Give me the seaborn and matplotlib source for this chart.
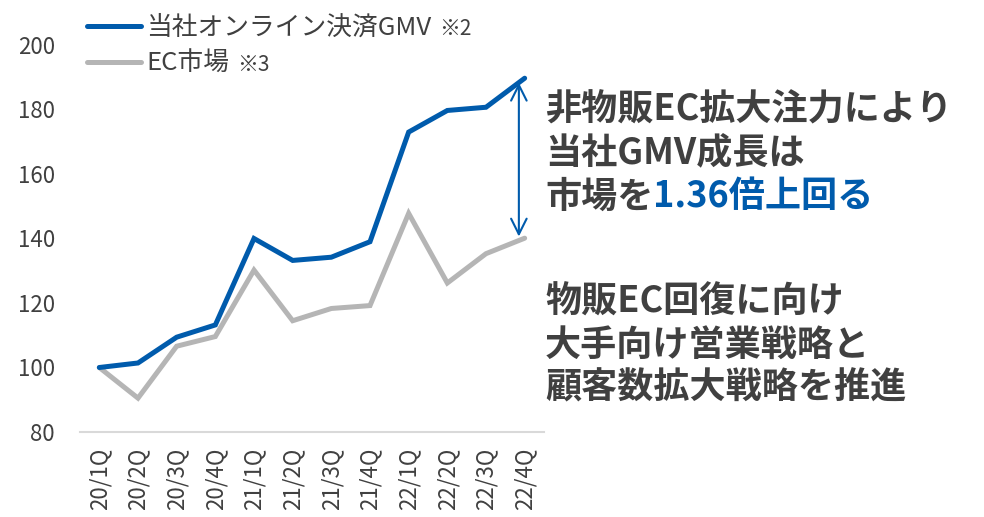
import matplotlib
matplotlib.use("Agg")
import matplotlib.pyplot as plt
import seaborn as sns
import pandas as pd

quarters = ["20/1Q", "20/2Q", "20/3Q", "20/4Q", "21/1Q", "21/2Q",
            "21/3Q", "21/4Q", "22/1Q", "22/2Q", "22/3Q", "22/4Q"]
gmv = [100, 101.4, 109.4, 113.2, 140, 133.2, 134.2, 139, 173, 179.7, 180.7, 189.7]
ec_market = [100, 90.5, 106.6, 109.6, 130.2, 114.5, 118.3, 119.2, 147.8, 126.2, 135.3, 140.1]
series_names = ["当社オンライン決済GMV", "EC市場"]
series_notes = ["※2", "※3"]

BLUE = "#005BAC"
GRAY = "#B5B5B5"
TEXT = "#404040"

sns.set_theme(style="white")
plt.rcParams["font.family"] = ["Noto Sans CJK JP", "DejaVu Sans"]

df = pd.DataFrame({
    "quarter": quarters * 2,
    "value": gmv + ec_market,
    "series": [series_names[0]] * len(quarters) + [series_names[1]] * len(quarters),
})

fig = plt.figure(figsize=(9.84, 5.17), dpi=100)
ax = fig.add_axes([80 / 984, 85 / 517, 464 / 984, 387 / 517])

sns.lineplot(data=df, x="quarter", y="value", hue="series",
             palette={series_names[0]: BLUE, series_names[1]: GRAY},
             hue_order=[series_names[1], series_names[0]],
             linewidth=3.6, ax=ax, legend=False, sort=False)
for ln in ax.lines:
    ln.set_solid_capstyle("round")
    ln.set_solid_joinstyle("miter")

ax.set_xlim(-0.5, len(quarters) - 0.5)
ax.set_ylim(80, 200)
ax.set_yticks(range(80, 201, 20))
ax.set_xlabel("")
ax.set_ylabel("")
ax.tick_params(axis="both", length=0, colors=TEXT, labelsize=16)
ax.tick_params(axis="y", pad=18)
ax.tick_params(axis="x", pad=11, rotation=90)
for s in ["top", "right", "left"]:
    ax.spines[s].set_visible(False)
ax.spines["bottom"].set_color("#D9D9D9")
ax.spines["bottom"].set_linewidth(1.5)
ax.grid(False)

# double arrow showing the gap at 22/4Q
ax.annotate("", xy=(10.85, 188.3), xytext=(10.85, 140.6),
            arrowprops=dict(arrowstyle="<->", color=BLUE, lw=1.5,
                            mutation_scale=28, shrinkA=0, shrinkB=0))

# legend
handles = [plt.Line2D([], [], color=BLUE, lw=3.6, solid_capstyle="round"),
           plt.Line2D([], [], color=GRAY, lw=3.6, solid_capstyle="round")]
leg = fig.legend(handles, series_names, loc="upper left",
                 bbox_to_anchor=(87 / 984, 1 - 15 / 517), frameon=False,
                 fontsize=18.5, handlelength=2.1, handletextpad=0.2,
                 labelspacing=0.4, borderpad=0, borderaxespad=0)
for t in leg.get_texts():
    t.set_color(TEXT)

fig.canvas.draw()
r = fig.canvas.get_renderer()
W, H = fig.bbox.width, fig.bbox.height
for t, note in zip(leg.get_texts(), series_notes):
    bb = t.get_window_extent(r)
    fig.text((bb.x1 + 8) / W, (bb.y1 - 3) / H, note, fontsize=15,
             color=TEXT, va="top", ha="left")

# right-hand messages
x0 = 545 / 984
fs = 26
fig.text(x0, 1 - 110 / 517, "非物販EC拡大注力により", fontsize=fs,
         fontweight="bold", color=TEXT, va="center")
fig.text(x0, 1 - 153 / 517, "当社GMV成長は", fontsize=fs,
         fontweight="bold", color=TEXT, va="center")
t3 = fig.text(x0, 1 - 197 / 517, "市場を", fontsize=fs,
              fontweight="bold", color=TEXT, va="center")
fig.canvas.draw()
bb = t3.get_window_extent(fig.canvas.get_renderer())
fig.text(bb.x1 / W, 1 - 197 / 517, "1.36倍上回る", fontsize=fs,
         fontweight="bold", color=BLUE, va="center")

for i, line in enumerate(["物販EC回復に向け", "大手向け営業戦略と", "顧客数拡大戦略を推進"]):
    fig.text(x0, 1 - (302 + 43 * i) / 517, line, fontsize=fs,
             fontweight="bold", color=TEXT, va="center")

fig.savefig("out.png", dpi=100, facecolor="white")
